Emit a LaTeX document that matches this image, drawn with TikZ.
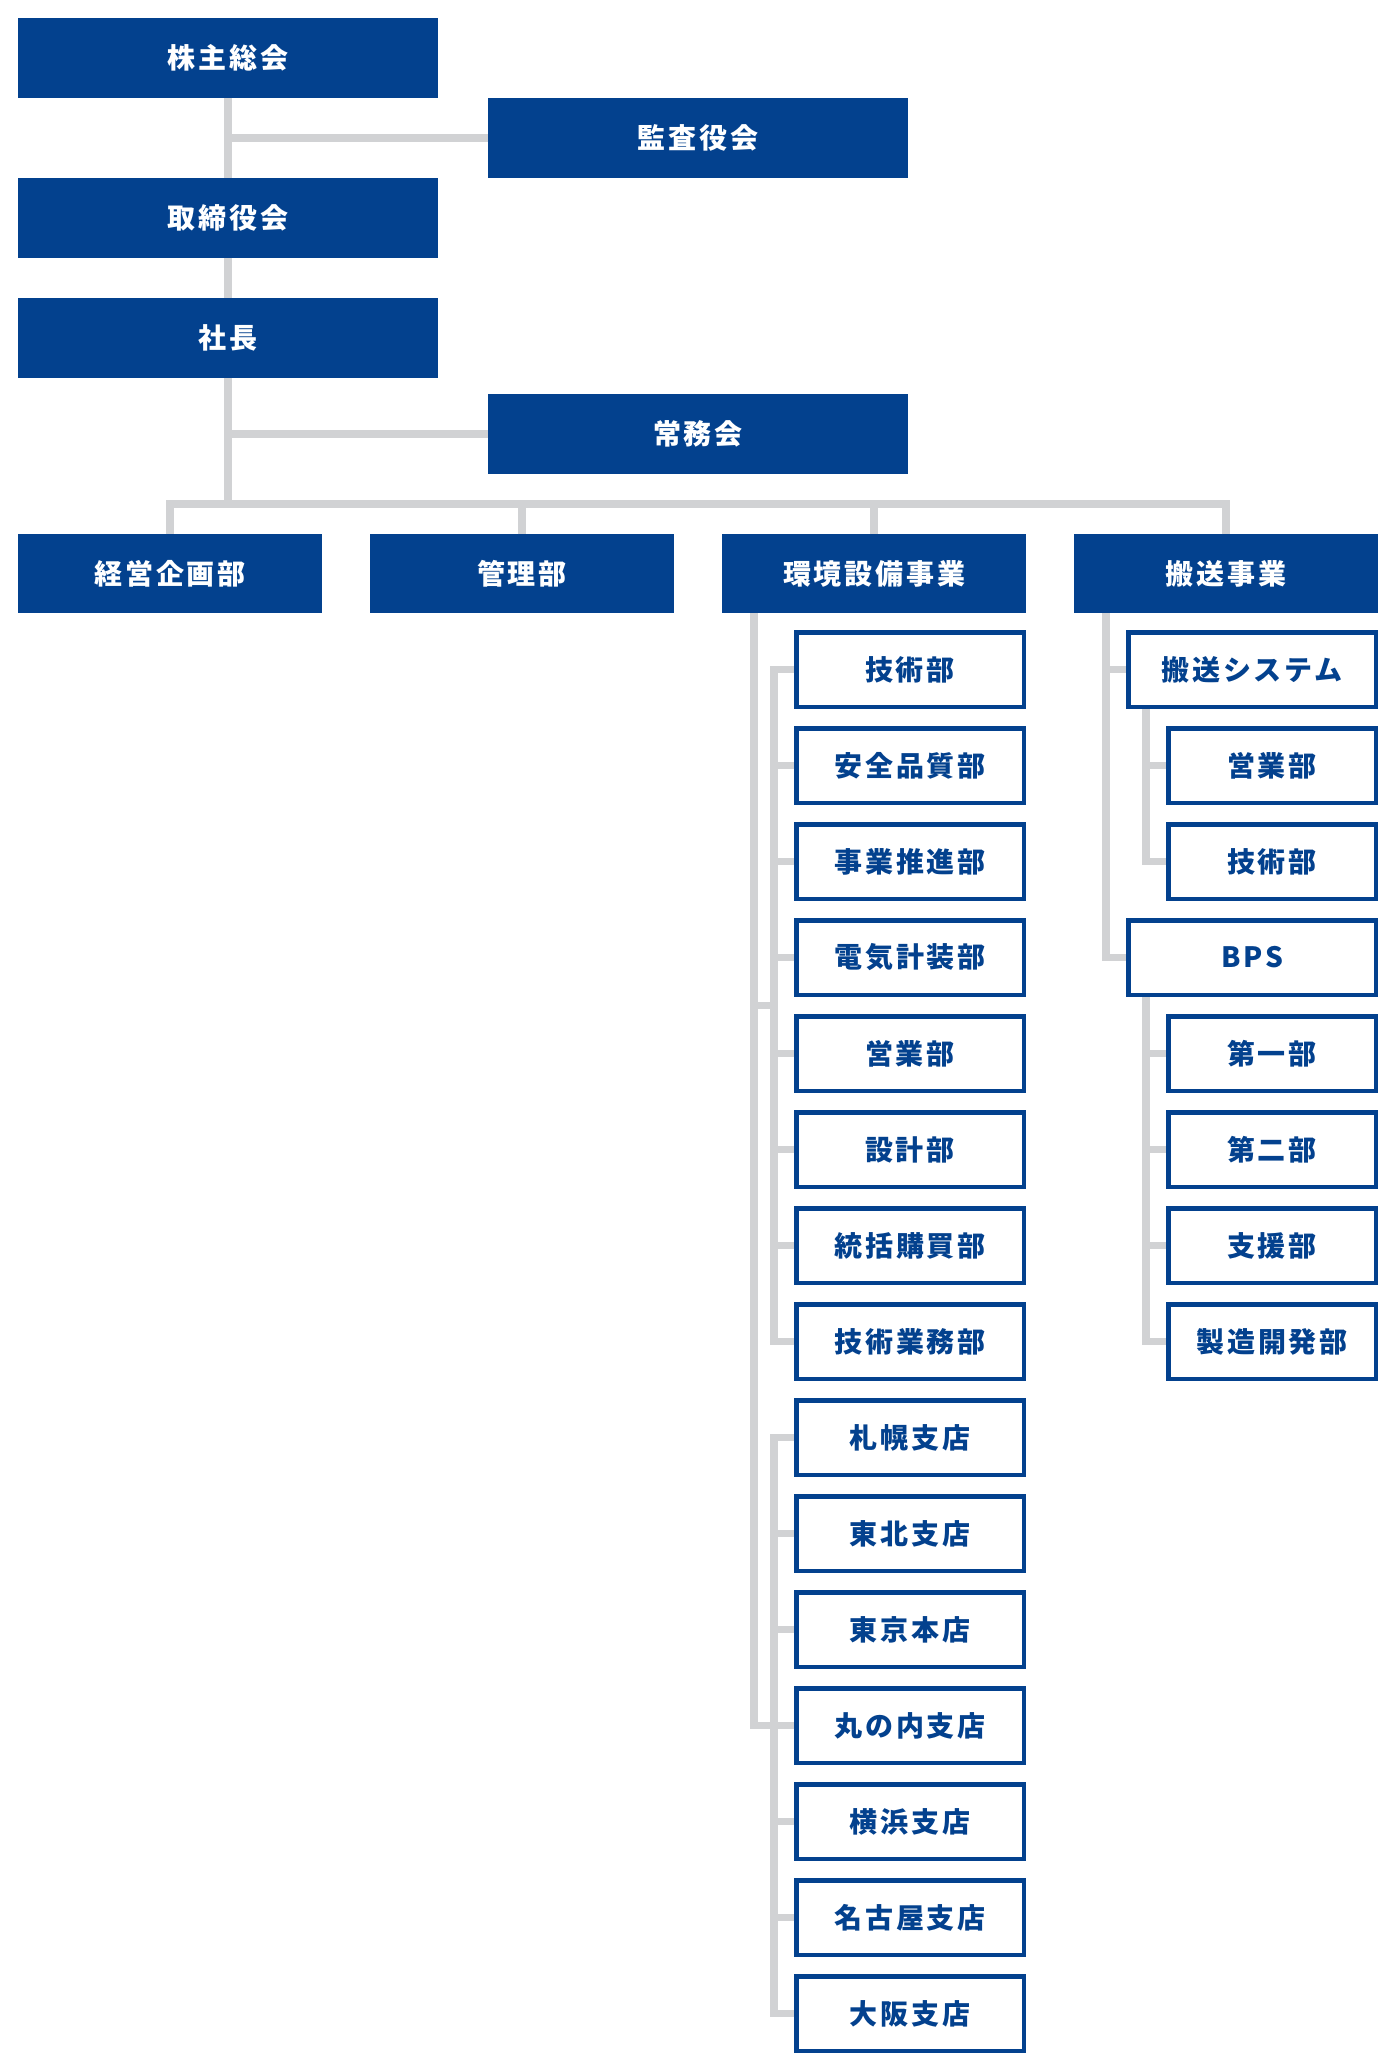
\documentclass[tikz,border=0pt]{standalone}
\usepackage{fontspec}
\setmainfont{Noto Sans CJK JP}[LetterSpace=10]
\usepackage{xcolor}
\usetikzlibrary{positioning}
\definecolor{orgblue}{RGB}{3,65,142}
\definecolor{orggray}{RGB}{209,210,212}

\begin{document}
\begin{tikzpicture}[x=0.5pt,y=-0.5pt,node distance=8.5pt,
	font=\fontsize{14pt}{16pt}\selectfont\bfseries,
	head/.style={fill=orgblue,text=white,outer sep=0pt,inner sep=0pt,minimum width=210pt,minimum height=40pt},
	dept/.style={head,minimum width=152pt,minimum height=39.5pt},
	unit/.style={draw=orgblue,line width=2.25pt,fill=white,text=orgblue,inner sep=0pt,minimum width=113.75pt,minimum height=37.25pt},
	wideunit/.style={unit,minimum width=123.75pt},
	smallunit/.style={unit,minimum width=103.75pt},
	link/.style={draw=orggray,line width=3.75pt}]
			\useasboundingbox (0,0) rectangle (1396,2072);
			\node[head] (kabu) at (228,58) {株主総会};
			\node[head] (kansa) at (698,138) {監査役会};
			\node[head] (tori) at (228,218) {取締役会};
			\node[head] (shacho) at (228,338) {社長};
			\node[head] (jomu) at (698,434) {常務会};
			\node[dept] (keiei) at (170,573.5) {経営企画部};
			\node[dept] (kanri) at (522,573.5) {管理部};
			\node[dept] (kankyo) at (874,573.5) {環境設備事業};
			\node[dept] (hanso) at (1226,573.5) {搬送事業};

			\node[unit] (k1) at (910,669.5) {技術部};
			\node[unit] (k2) [below=of k1] {安全品質部};
			\node[unit] (k3) [below=of k2] {事業推進部};
			\node[unit] (k4) [below=of k3] {電気計装部};
			\node[unit] (k5) [below=of k4] {営業部};
			\node[unit] (k6) [below=of k5] {設計部};
			\node[unit] (k7) [below=of k6] {統括購買部};
			\node[unit] (k8) [below=of k7] {技術業務部};
			\node[unit] (k9) [below=of k8] {札幌支店};
			\node[unit] (k10) [below=of k9] {東北支店};
			\node[unit] (k11) [below=of k10] {東京本店};
			\node[unit] (k12) [below=of k11] {丸の内支店};
			\node[unit] (k13) [below=of k12] {横浜支店};
			\node[unit] (k14) [below=of k13] {名古屋支店};
			\node[unit] (k15) [below=of k14] {大阪支店};

			\node[wideunit] (hsys) at (1252,669.5) {搬送システム};
			\node[smallunit] (heigyo) at (1272,765.5) {営業部};
			\node[smallunit] (hgijutsu) [below=of heigyo] {技術部};
			\node[wideunit] (bps) at (1252,957.5) {BPS};
			\node[smallunit] (dai1) at (1272,1053.5) {第一部};
			\node[smallunit] (dai2) [below=of dai1] {第二部};
			\node[smallunit] (shien) [below=of dai2] {支援部};
			\node[smallunit] (seizo) [below=of shien] {製造開発部};

			\coordinate (bus) at (228,504);
			\coordinate (kt) at ([xshift=16pt]kankyo.south west);
			\coordinate (g1) at (774,1005.5);
			\coordinate (g2) at (774,1725.5);
			\coordinate (ht) at ([xshift=16pt]hanso.south west);
			\coordinate (st) at ([xshift=10pt]hsys.south west);
			\coordinate (bt) at ([xshift=10pt]bps.south west);

			\draw[link] (kabu.south) -- (tori.north)
					(tori.south) -- (shacho.north)
					(kansa.west) -- (kansa.west -| kabu.south)
					(jomu.west) -- (jomu.west -| shacho.south)
					(shacho.south) -- (bus)
					(keiei.north) |- (bus)
					(kanri.north) |- (bus)
					(kankyo.north) |- (bus)
					(hanso.north) |- (bus);
			\draw[link] (kt) |- (g1) (kt) |- (g2)
					(k1.west) -| (g1) (k2.west) -| (g1) (k3.west) -| (g1) (k4.west) -| (g1)
					(k5.west) -| (g1) (k6.west) -| (g1) (k7.west) -| (g1) (k8.west) -| (g1)
					(k9.west) -| (g2) (k10.west) -| (g2) (k11.west) -| (g2) (k12.west) -| (g2)
					(k13.west) -| (g2) (k14.west) -| (g2) (k15.west) -| (g2);
			\draw[link] (ht) |- (hsys.west) (ht) |- (bps.west)
					(st) |- (heigyo.west) (st) |- (hgijutsu.west)
					(bt) |- (dai1.west) (bt) |- (dai2.west) (bt) |- (shien.west) (bt) |- (seizo.west);
\end{tikzpicture}
\end{document}
